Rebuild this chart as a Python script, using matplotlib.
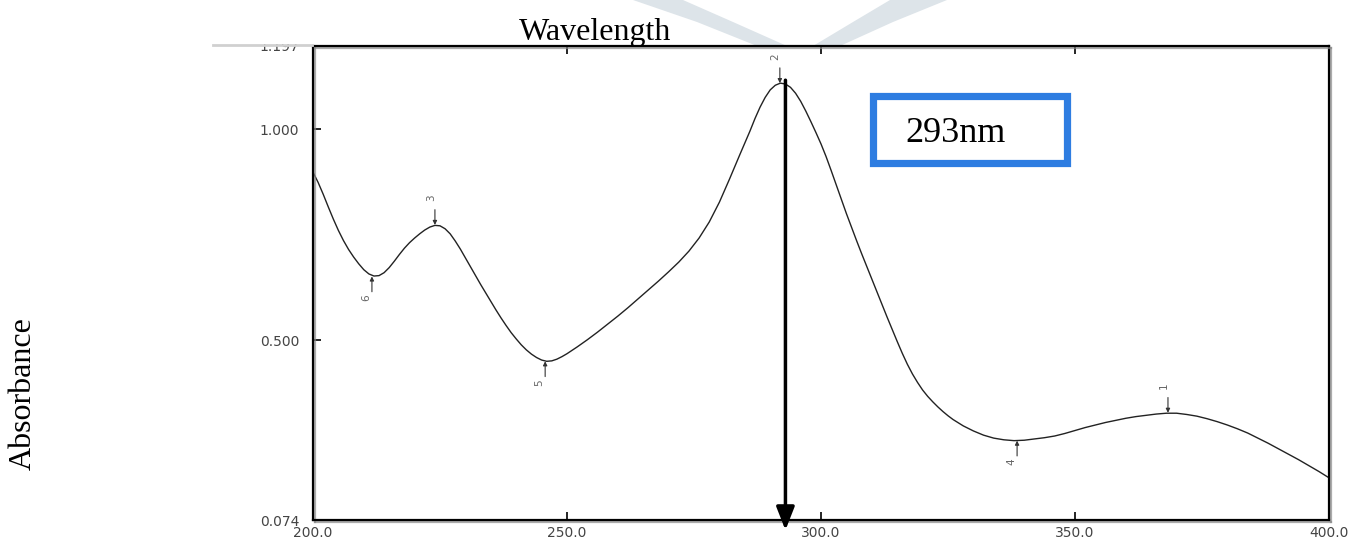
import matplotlib
matplotlib.use("Agg")
import matplotlib.pyplot as plt
import matplotlib.patheffects as pe
from matplotlib.patches import Rectangle, Polygon, ArrowStyle
from matplotlib.lines import Line2D

# spectrum (nm, absorbance)
wavelength = [200, 201, 202, 203, 204, 205, 206, 207, 208, 209,
              210, 211, 212, 213, 214, 215, 216, 217, 218, 219,
              220, 221, 222, 223, 224, 225, 226, 227, 228, 229,
              230, 231, 232, 233, 234, 235, 236, 237, 238, 239,
              240, 241, 242, 243, 244, 245, 246, 247, 248, 249,
              250, 252, 254, 256, 258, 260, 262, 264, 266, 268,
              270, 272, 274, 276, 278, 280, 282, 284, 286, 287,
              288, 289, 290, 291, 292, 293, 294, 295, 296, 297,
              298, 299, 300, 301, 302, 303, 304, 305, 306, 307,
              308, 309, 310, 311, 312, 313, 314, 315, 316, 317,
              318, 319, 320, 321, 322, 323, 324, 325, 326, 328,
              330, 332, 334, 336, 338, 340, 342, 344, 346, 348,
              350, 352, 354, 356, 358, 360, 362, 364, 366, 368,
              370, 372, 374, 376, 378, 380, 382, 384, 386, 388,
              390, 392, 394, 396, 398, 400]
absorbance = [0.898, 0.874, 0.846, 0.816, 0.787, 0.760, 0.736, 0.715, 0.697, 0.681,
              0.667, 0.657, 0.652, 0.653, 0.660, 0.672, 0.687, 0.703, 0.718, 0.731,
              0.742, 0.752, 0.761, 0.768, 0.772, 0.771, 0.764, 0.752, 0.735, 0.716,
              0.695, 0.674, 0.653, 0.632, 0.612, 0.592, 0.572, 0.553, 0.535, 0.518,
              0.503, 0.489, 0.477, 0.467, 0.459, 0.453, 0.450, 0.451, 0.455, 0.461,
              0.468, 0.484, 0.501, 0.519, 0.538, 0.557, 0.577, 0.598, 0.619, 0.640,
              0.662, 0.685, 0.711, 0.742, 0.780, 0.827, 0.882, 0.939, 0.995, 1.025,
              1.052, 1.075, 1.093, 1.104, 1.109, 1.107, 1.099, 1.085, 1.066, 1.043,
              1.018, 0.992, 0.965, 0.935, 0.902, 0.868, 0.834, 0.800, 0.768, 0.736,
              0.705, 0.675, 0.645, 0.615, 0.585, 0.555, 0.526, 0.497, 0.469, 0.443,
              0.420, 0.400, 0.382, 0.367, 0.354, 0.342, 0.331, 0.321, 0.312, 0.297,
              0.285, 0.275, 0.268, 0.264, 0.262, 0.263, 0.266, 0.269, 0.273, 0.279,
              0.286, 0.293, 0.299, 0.305, 0.310, 0.315, 0.319, 0.322, 0.325, 0.327,
              0.327, 0.324, 0.320, 0.314, 0.307, 0.299, 0.290, 0.280, 0.268, 0.256,
              0.243, 0.230, 0.217, 0.203, 0.189, 0.174]

peak_labels = ["1", "2", "3"]
peak_nm = [368.3, 291.9, 224.0]
peak_abs = [0.328, 1.109, 0.773]

valley_labels = ["4", "5", "6"]
valley_nm = [338.6, 245.7, 211.6]
valley_abs = [0.262, 0.450, 0.651]

lambda_max = 293
xticks = [200, 250, 300, 350, 400]
xticklabels = ["200.0", "250.0", "300.0", "350.0", "400.0"]
yticks = [0.074, 0.500, 1.000, 1.197]
yticklabels = ["0.074", "0.500", "1.000", "1.197"]

W, H = 1349, 542
fig = plt.figure(figsize=(W / 100, H / 100), dpi=100)


def fx(x):
    return x / W


def fy(y):
    return 1 - y / H


# faint watermark behind the plot
wm = "#dde4e9"
fig.add_artist(Polygon([(fx(633), fy(0)), (fx(683), fy(0)), (fx(733), fy(22)), (fx(787), fy(46)),
                        (fx(757), fy(46)), (fx(697), fy(22))], closed=True,
                       transform=fig.transFigure, color=wm, lw=0, zorder=-1))
fig.add_artist(Polygon([(fx(890), fy(0)), (fx(947), fy(0)), (fx(893), fy(22)), (fx(840), fy(46)),
                        (fx(813), fy(46)), (fx(853), fy(22))], closed=True,
                       transform=fig.transFigure, color=wm, lw=0, zorder=-1))

ax = fig.add_axes([fx(313), fy(520), fx(1016), 474 / H])
ax.plot(wavelength, absorbance, color="#222222", lw=1.0, solid_joinstyle="round")
ax.set_xlim(200, 400)
ax.set_ylim(0.074, 1.197)

ax.set_xticks(xticks)
ax.set_xticklabels(xticklabels)
ax.set_yticks(yticks)
ax.set_yticklabels(yticklabels)
ax.tick_params(axis="both", direction="in", length=6, width=1.2, colors="black",
               labelcolor="#444444", labelsize=10)
ax.tick_params(axis="x", top=True, pad=4)
ax.tick_params(axis="y", pad=10)

shadow = [pe.SimpleLineShadow(offset=(1.5, -1.5), shadow_color="#888888", alpha=0.7), pe.Normal()]
for s in ax.spines.values():
    s.set_linewidth(1.6)
    s.set_path_effects(shadow)

# peak / valley markers
arr = dict(arrowstyle="-|>", lw=0.8, color="#333333", mutation_scale=6, shrinkA=0, shrinkB=0)
for lab, x, y in zip(peak_labels, peak_nm, peak_abs):
    ax.annotate("", xy=(x, y), xytext=(0, 11), textcoords="offset points", arrowprops=arr)
    ax.annotate(lab, xy=(x, y), xytext=(-3, 17), textcoords="offset points", rotation=90,
                ha="center", va="bottom", fontsize=7.5, color="#666666")
for lab, x, y in zip(valley_labels, valley_nm, valley_abs):
    ax.annotate("", xy=(x, y), xytext=(0, -11), textcoords="offset points", arrowprops=arr)
    ax.annotate(lab, xy=(x, y), xytext=(-4, -13), textcoords="offset points", rotation=90,
                ha="center", va="top", fontsize=7.5, color="#666666")

# lambda max arrow
ax.annotate("", xy=(lambda_max, 0.050), xytext=(lambda_max, 1.116),
            arrowprops=dict(arrowstyle=ArrowStyle("-|>", head_length=1.4, head_width=0.55),
                            mutation_scale=10, lw=2.5, color="black", shrinkA=0, shrinkB=0),
            annotation_clip=False)

# highlight box
fig.add_artist(Rectangle((fx(872.5), fy(162.5)), fx(194), (162.5 - 95.5) / H,
                         transform=fig.transFigure, fill=False, ec="#2e7de1", lw=5.2, zorder=3))
fig.text(fx(905), fy(133), "293nm", family="Liberation Serif", fontsize=26,
         ha="left", va="center", zorder=4)

fig.text(fx(595), fy(40), "Wavelength", family="Liberation Serif", fontsize=23,
         ha="center", va="baseline")
fig.text(fx(23), fy(394), "Absorbance", family="Liberation Serif", fontsize=23,
         ha="center", va="center", rotation=90)

# top-left cut edge of the scan
fig.add_artist(Rectangle((fx(230), fy(44)), fx(82), 14 / H, transform=fig.transFigure,
                         color="white", lw=0, zorder=2))
fig.add_artist(Line2D([fx(213), fx(312)], [fy(45), fy(45)], transform=fig.transFigure,
                      color="#d0d0d0", lw=2, zorder=2))

fig.savefig("out.png", dpi=100)
